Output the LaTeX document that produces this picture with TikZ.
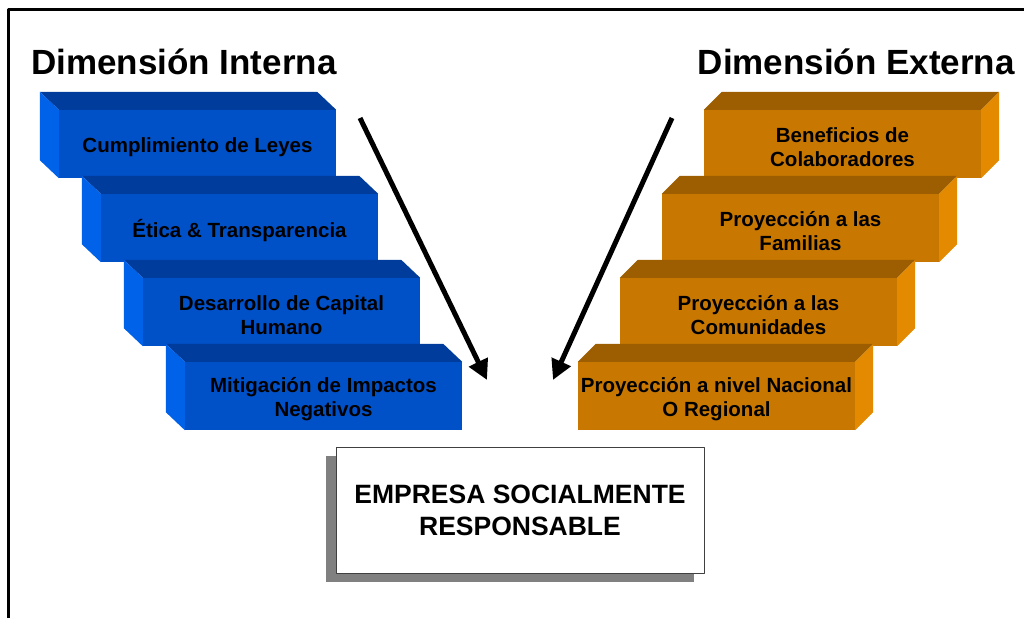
\documentclass[tikz,border=0pt]{standalone}
\usepackage{fontspec}
\setmainfont{Liberation Sans}
\usetikzlibrary{arrows.meta,shadows}
\definecolor{azul}{HTML}{0050C8}
\definecolor{azultop}{HTML}{003C9C}
\definecolor{azulside}{HTML}{0062E8}
\definecolor{ocre}{HTML}{C87800}
\definecolor{ocretop}{HTML}{9C5E00}
\definecolor{ocreside}{HTML}{E48A00}
\begin{document}
\begin{tikzpicture}[x=1pt,y=-1pt,line join=round,font=\bfseries\fontsize{20.5}{24}\selectfont,
 cara/.style={minimum width=277pt,minimum height=68pt,inner sep=0pt},
 rotulo/.style={align=center,inner sep=0pt,yshift=-3pt},
 titulo/.style={font=\bfseries\fontsize{35}{40}\selectfont,inner sep=0pt},
 flecha/.style={line width=5pt,-{Triangle[length=20pt,width=20pt]}}]
\useasboundingbox (0,0) rectangle (1024,618);
\draw[line width=3pt] (8.5,618)--(8.5,9.5)--(1024,9.5);
\node[titulo,anchor=base west] (DI) at (31,74.5) {Dimensión Interna};
\node[titulo,anchor=base east] (DE) at (1015,74.5) {Dimensión Externa};
% dimension interna
\foreach \i/\txt in {0/{Cumplimiento de Leyes},1/{Ética \& Transparencia},2/{Desarrollo de Capital\\Humano},3/{Mitigación de Impactos\\Negativos}}{
 \node[cara,fill=azul,label={[rotulo]center:\txt}] (int\i) at (197.5+42*\i,144+84*\i) {};
 \fill[azultop] (int\i.north west)--++(-19,-18)--([shift={(-19,-18)}]int\i.north east)--(int\i.north east)--cycle;
 \fill[azulside] (int\i.north west)--++(-19,-18)--([shift={(-19,-18)}]int\i.south west)--(int\i.south west)--cycle;
}
% dimension externa
\foreach \i/\txt in {0/{Beneficios de\\Colaboradores},1/{Proyección a las\\Familias},2/{Proyección a las\\Comunidades},3/{Proyección a nivel Nacional\\O Regional}}{
 \node[cara,fill=ocre,label={[rotulo]center:\txt}] (ext\i) at (842.5-42*\i,144+84*\i) {};
 \fill[ocretop] (ext\i.north west)--++(18,-18)--([shift={(18,-18)}]ext\i.north east)--(ext\i.north east)--cycle;
 \fill[ocreside] (ext\i.north east)--++(18,-18)--([shift={(18,-18)}]ext\i.south east)--(ext\i.south east)--cycle;
}
\node[draw=black!75,line width=1pt,fill=white,minimum width=368pt,minimum height=126pt,align=center,
 font=\bfseries\fontsize{26.5}{32}\selectfont,
 drop shadow={shadow xshift=-10pt,shadow yshift=-9pt,fill=black!50,opacity=1}] (ESR) at (520,510) {EMPRESA SOCIALMENTE\\RESPONSABLE};
\path (360,118)coordinate(li) (487,380)coordinate(lo) (672,118)coordinate(ri) (553,380)coordinate(ro);
\draw[flecha] (li)--(lo);
\draw[flecha] (ri)--(ro);
\end{tikzpicture}
\end{document}
